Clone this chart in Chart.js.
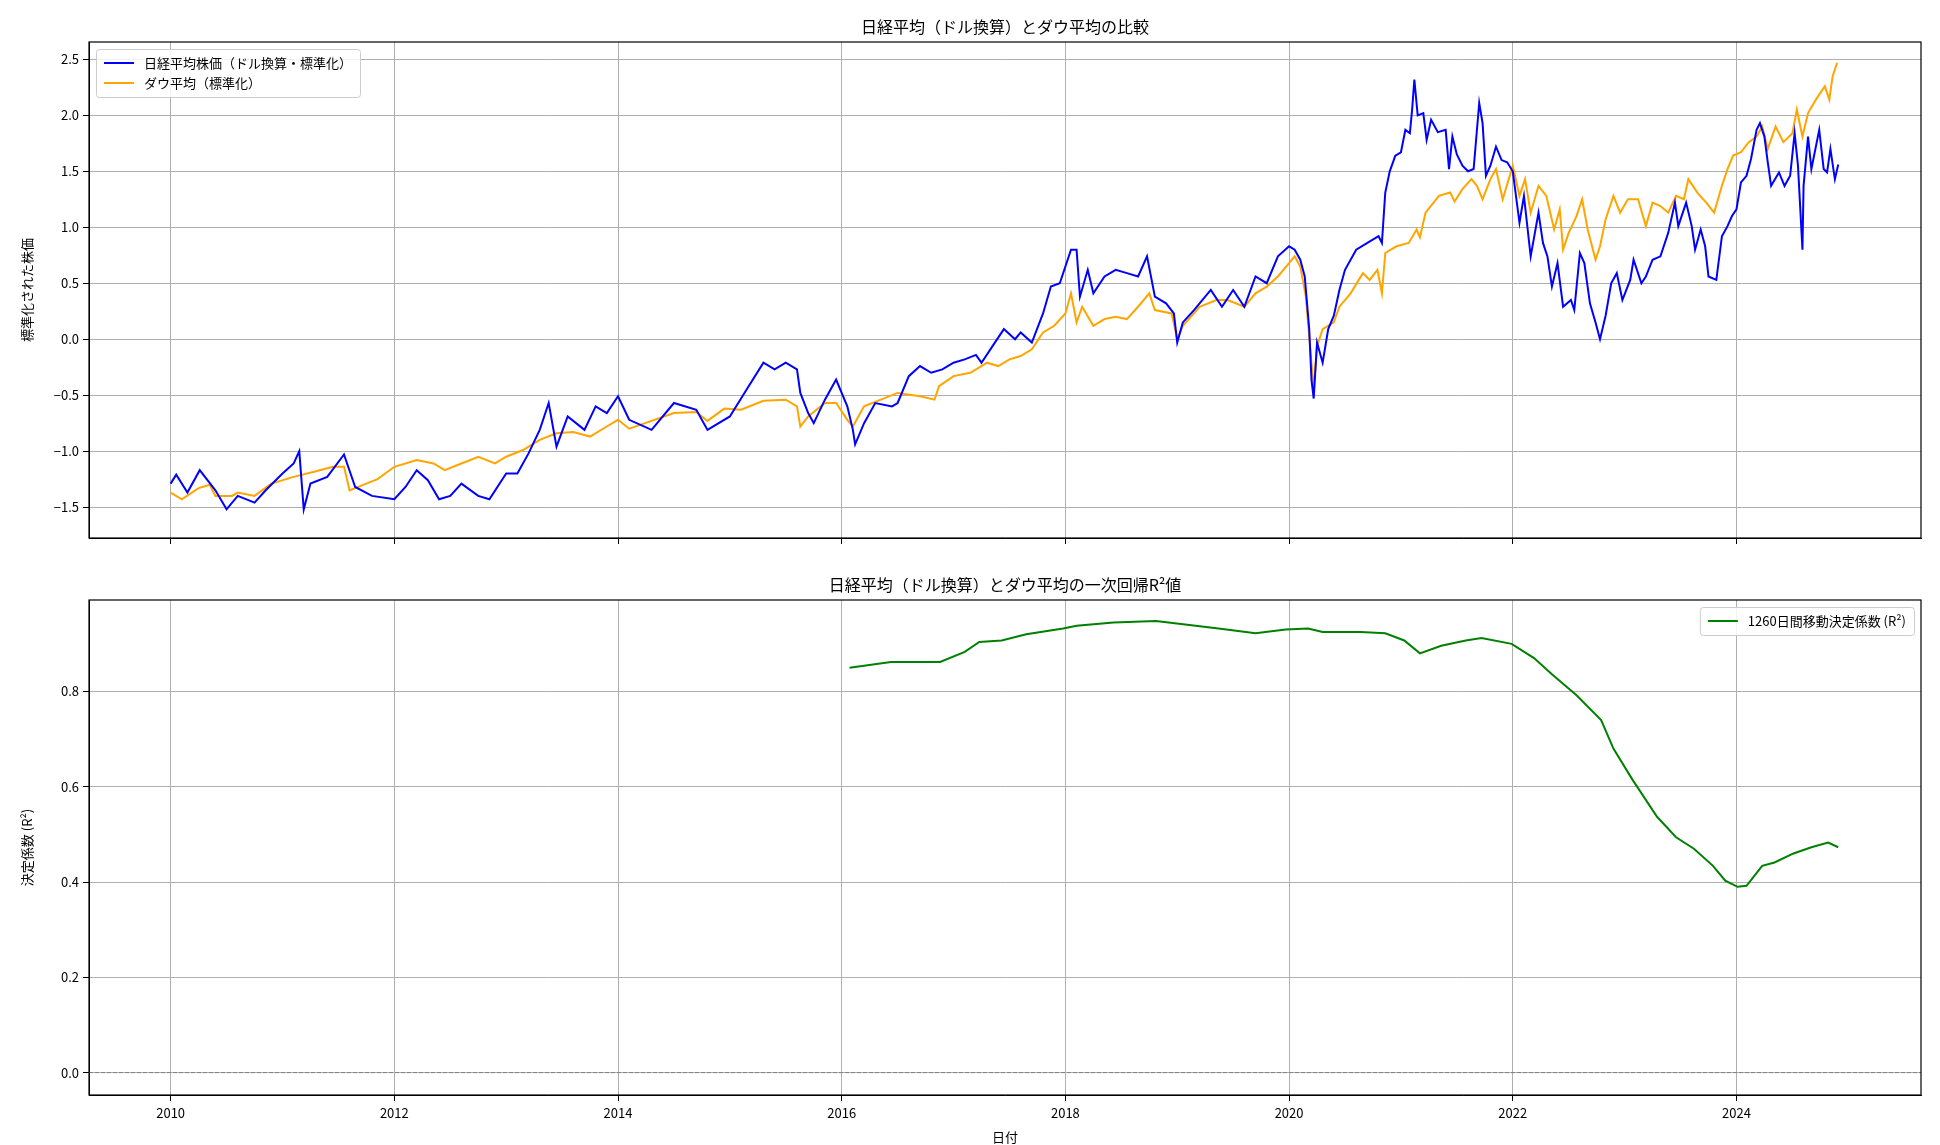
<!DOCTYPE html>
<html>
<head>
<meta charset="utf-8">
<script src="https://cdn.jsdelivr.net/npm/chart.js@4/dist/chart.umd.min.js"></script>
<style>
  body { margin: 0; background: #fff; width: 1940px; height: 1145px; position: relative; overflow: hidden;
         font-family: "Noto Sans CJK JP", "DejaVu Sans", sans-serif; }
  .wrap { position: absolute; left: 0; width: 1940px; }
  .ttl { position: absolute; left: 89px; width: 1832px; text-align: center; font-size: 16px; color: #000; }
</style>
</head>
<body>
<div class="wrap" style="top:0;height:560px"><canvas id="chart-top"></canvas></div>
<div class="wrap" style="top:560px;height:585px"><canvas id="chart-bottom"></canvas></div>
<div class="ttl" style="top:14px">日経平均（ドル換算）とダウ平均の比較</div>
<div class="ttl" style="top:572px">日経平均（ドル換算）とダウ平均の一次回帰R²値</div>
<script>
// 日経平均（ドル換算・標準化）
const nikkeiX = [2010.0,2010.05,2010.15,2010.26,2010.4,2010.5,2010.6,2010.75,2010.85,2011.0,2011.1,2011.15,2011.19,2011.25,2011.4,2011.55,2011.65,2011.8,2012.0,2012.1,2012.2,2012.3,2012.4,2012.5,2012.6,2012.75,2012.85,2013.0,2013.1,2013.2,2013.3,2013.38,2013.45,2013.55,2013.7,2013.8,2013.9,2014.0,2014.1,2014.3,2014.5,2014.7,2014.8,2015.0,2015.15,2015.3,2015.4,2015.5,2015.6,2015.63,2015.7,2015.75,2015.85,2015.95,2016.05,2016.1,2016.12,2016.2,2016.3,2016.45,2016.5,2016.6,2016.7,2016.8,2016.9,2017.0,2017.1,2017.2,2017.25,2017.35,2017.45,2017.55,2017.6,2017.7,2017.8,2017.87,2017.95,2018.05,2018.1,2018.13,2018.2,2018.25,2018.35,2018.45,2018.55,2018.65,2018.73,2018.8,2018.9,2018.97,2019.0,2019.05,2019.15,2019.3,2019.4,2019.5,2019.6,2019.7,2019.8,2019.9,2020.0,2020.05,2020.1,2020.14,2020.18,2020.2,2020.22,2020.25,2020.3,2020.35,2020.4,2020.45,2020.5,2020.6,2020.7,2020.8,2020.83,2020.86,2020.9,2020.95,2021.0,2021.04,2021.08,2021.1,2021.12,2021.15,2021.2,2021.23,2021.27,2021.33,2021.4,2021.43,2021.46,2021.5,2021.55,2021.6,2021.65,2021.7,2021.73,2021.76,2021.8,2021.85,2021.9,2021.95,2022.0,2022.06,2022.1,2022.16,2022.23,2022.27,2022.31,2022.35,2022.4,2022.45,2022.52,2022.55,2022.6,2022.64,2022.69,2022.74,2022.78,2022.83,2022.88,2022.93,2022.98,2023.05,2023.08,2023.15,2023.19,2023.25,2023.32,2023.39,2023.45,2023.48,2023.55,2023.6,2023.63,2023.68,2023.72,2023.75,2023.82,2023.87,2023.92,2023.96,2024.0,2024.04,2024.09,2024.13,2024.18,2024.21,2024.25,2024.28,2024.31,2024.38,2024.43,2024.48,2024.52,2024.55,2024.59,2024.6,2024.64,2024.67,2024.74,2024.78,2024.81,2024.84,2024.88,2024.91];
const nikkeiY = [-1.29,-1.21,-1.37,-1.17,-1.35,-1.52,-1.4,-1.46,-1.35,-1.2,-1.11,-1.0,-1.52,-1.29,-1.23,-1.03,-1.32,-1.4,-1.43,-1.32,-1.17,-1.26,-1.43,-1.4,-1.29,-1.4,-1.43,-1.2,-1.2,-1.02,-0.81,-0.57,-0.96,-0.69,-0.81,-0.6,-0.66,-0.51,-0.72,-0.81,-0.57,-0.63,-0.81,-0.69,-0.45,-0.21,-0.27,-0.21,-0.27,-0.48,-0.66,-0.75,-0.54,-0.36,-0.6,-0.81,-0.94,-0.75,-0.57,-0.6,-0.57,-0.33,-0.24,-0.3,-0.27,-0.21,-0.18,-0.14,-0.21,-0.06,0.09,0.0,0.06,-0.03,0.23,0.47,0.5,0.8,0.8,0.38,0.62,0.41,0.56,0.62,0.59,0.56,0.74,0.38,0.32,0.23,-0.03,0.15,0.26,0.44,0.29,0.44,0.29,0.56,0.5,0.74,0.83,0.8,0.71,0.56,0.09,-0.36,-0.53,-0.03,-0.21,0.09,0.21,0.44,0.62,0.8,0.86,0.92,0.86,1.31,1.5,1.64,1.67,1.87,1.84,2.05,2.32,2.0,2.02,1.78,1.96,1.85,1.87,1.52,1.81,1.65,1.55,1.5,1.52,2.11,1.93,1.46,1.55,1.72,1.6,1.58,1.5,1.04,1.28,0.74,1.13,0.86,0.74,0.47,0.68,0.29,0.35,0.26,0.77,0.68,0.32,0.15,0.0,0.21,0.5,0.59,0.35,0.53,0.71,0.5,0.56,0.71,0.74,0.95,1.22,1.01,1.22,1.01,0.8,0.98,0.83,0.56,0.53,0.92,1.01,1.1,1.16,1.4,1.46,1.61,1.87,1.93,1.81,1.58,1.37,1.49,1.37,1.46,1.84,1.55,0.8,1.37,1.81,1.52,1.87,1.52,1.49,1.7,1.43,1.56];

// ダウ平均（標準化）
const dowX = [2010.0,2010.1,2010.25,2010.35,2010.4,2010.55,2010.6,2010.75,2010.9,2011.1,2011.3,2011.45,2011.55,2011.6,2011.75,2011.85,2012.0,2012.2,2012.35,2012.45,2012.6,2012.75,2012.9,2013.0,2013.15,2013.3,2013.45,2013.6,2013.75,2013.9,2014.0,2014.1,2014.3,2014.5,2014.7,2014.8,2014.95,2015.1,2015.3,2015.5,2015.6,2015.63,2015.7,2015.85,2015.95,2016.05,2016.1,2016.2,2016.35,2016.5,2016.7,2016.83,2016.87,2017.0,2017.15,2017.3,2017.4,2017.5,2017.6,2017.7,2017.8,2017.9,2018.0,2018.05,2018.1,2018.15,2018.25,2018.35,2018.45,2018.55,2018.65,2018.75,2018.8,2018.95,2019.0,2019.05,2019.2,2019.35,2019.45,2019.6,2019.7,2019.8,2019.9,2020.0,2020.05,2020.1,2020.15,2020.2,2020.22,2020.25,2020.3,2020.4,2020.45,2020.55,2020.66,2020.72,2020.79,2020.83,2020.86,2020.96,2021.07,2021.14,2021.17,2021.22,2021.34,2021.44,2021.48,2021.55,2021.63,2021.68,2021.73,2021.8,2021.85,2021.91,2022.0,2022.06,2022.11,2022.16,2022.23,2022.3,2022.37,2022.42,2022.45,2022.5,2022.57,2022.62,2022.67,2022.74,2022.78,2022.83,2022.9,2022.96,2023.03,2023.12,2023.19,2023.25,2023.32,2023.39,2023.46,2023.53,2023.57,2023.65,2023.73,2023.8,2023.87,2023.92,2023.97,2024.04,2024.11,2024.18,2024.23,2024.28,2024.35,2024.42,2024.5,2024.54,2024.59,2024.64,2024.71,2024.79,2024.83,2024.86,2024.9];
const dowY = [-1.37,-1.43,-1.33,-1.3,-1.4,-1.4,-1.37,-1.4,-1.29,-1.23,-1.18,-1.14,-1.14,-1.35,-1.29,-1.25,-1.14,-1.08,-1.11,-1.17,-1.11,-1.05,-1.11,-1.05,-0.99,-0.9,-0.84,-0.83,-0.87,-0.78,-0.72,-0.8,-0.73,-0.66,-0.65,-0.73,-0.62,-0.63,-0.55,-0.54,-0.6,-0.78,-0.69,-0.57,-0.57,-0.72,-0.78,-0.6,-0.54,-0.48,-0.51,-0.54,-0.42,-0.33,-0.3,-0.21,-0.24,-0.18,-0.15,-0.09,0.06,0.12,0.23,0.41,0.15,0.29,0.12,0.18,0.2,0.18,0.29,0.41,0.26,0.23,0.0,0.12,0.29,0.35,0.35,0.29,0.41,0.47,0.56,0.68,0.74,0.65,0.38,-0.21,-0.45,-0.06,0.09,0.15,0.29,0.41,0.59,0.53,0.62,0.41,0.77,0.83,0.86,0.98,0.91,1.13,1.28,1.31,1.23,1.34,1.43,1.37,1.25,1.43,1.52,1.25,1.55,1.28,1.43,1.13,1.37,1.28,0.98,1.16,0.8,0.95,1.1,1.25,0.98,0.71,0.83,1.07,1.28,1.13,1.25,1.25,1.01,1.22,1.19,1.13,1.28,1.25,1.43,1.31,1.22,1.13,1.37,1.52,1.64,1.67,1.76,1.81,1.9,1.7,1.9,1.76,1.84,2.05,1.81,2.02,2.14,2.26,2.14,2.35,2.47];

// 1260日間移動決定係数 (R²)
const r2X = [2016.07,2016.44,2016.88,2017.1,2017.23,2017.43,2017.65,2017.98,2018.1,2018.43,2018.81,2019.09,2019.37,2019.7,2019.97,2020.17,2020.3,2020.64,2020.86,2021.03,2021.17,2021.36,2021.58,2021.72,2021.99,2022.19,2022.35,2022.57,2022.79,2022.9,2023.07,2023.29,2023.46,2023.62,2023.79,2023.9,2024.01,2024.09,2024.23,2024.34,2024.51,2024.67,2024.82,2024.91];
const r2Y = [0.85,0.862,0.862,0.883,0.904,0.907,0.92,0.932,0.938,0.945,0.948,0.94,0.932,0.922,0.93,0.932,0.925,0.925,0.922,0.907,0.88,0.896,0.907,0.912,0.9,0.87,0.836,0.792,0.74,0.68,0.615,0.537,0.494,0.47,0.434,0.403,0.39,0.392,0.434,0.441,0.46,0.473,0.483,0.473];

const yearTicks = [2010, 2012, 2014, 2016, 2018, 2020, 2022, 2024];
const topTicks = [-1.5, -1.0, -0.5, 0.0, 0.5, 1.0, 1.5, 2.0, 2.5];
const bottomTicks = [0.0, 0.2, 0.4, 0.6, 0.8];

const pts = (xs, ys) => xs.map((x, i) => ({ x, y: ys[i] }));
const fmt = v => (v < 0 ? '\u2212' : '') + Math.abs(v).toFixed(1);
const FAMILY = '"Noto Sans CJK JP", "DejaVu Sans", sans-serif';
const FONT = { family: FAMILY, size: 13 };

// 枠線 + matplotlib風の凡例
const frame = {
    id: 'frame',
    afterDraw(chart, args, opts) {
        const { ctx, chartArea: a } = chart;
        ctx.save();
        ctx.strokeStyle = '#000';
        ctx.lineWidth = 1.2;
        ctx.strokeRect(a.left, a.top, a.right - a.left, a.bottom - a.top);

        ctx.font = '13px ' + FAMILY;
        const sets = chart.data.datasets;
        const rowH = 20, sample = 30, gap = 10, pad = 8;
        const w = pad + sample + gap + Math.max(...sets.map(d => ctx.measureText(d.label).width)) + pad;
        const h = pad / 2 + sets.length * rowH + pad / 2;
        const x0 = opts.corner === 'right' ? a.right - 7 - w : a.left + 7;
        const y0 = a.top + 7;
        ctx.fillStyle = 'rgba(255,255,255,0.85)';
        ctx.strokeStyle = '#cccccc';
        ctx.lineWidth = 1;
        ctx.beginPath();
        ctx.roundRect(x0 + 0.5, y0 + 0.5, w, h, 3);
        ctx.fill(); ctx.stroke();
        ctx.textBaseline = 'middle';
        sets.forEach((d, i) => {
            const cy = y0 + pad / 2 + rowH * i + rowH / 2;
            ctx.strokeStyle = d.borderColor;
            ctx.lineWidth = 2;
            ctx.beginPath(); ctx.moveTo(x0 + pad, cy); ctx.lineTo(x0 + pad + sample, cy); ctx.stroke();
            ctx.fillStyle = '#000';
            ctx.fillText(d.label, x0 + pad + sample + gap, cy);
        });
        ctx.restore();
    }
};

function xScale(showLabels, title) {
    return {
        type: 'linear', min: 2009.27, max: 2025.65,
        afterBuildTicks: s => { s.ticks = yearTicks.map(v => ({ value: v })); },
        afterFit: s => { s.height = title ? 50 : 22; },
        ticks: { display: showLabels, color: '#000', font: FONT, callback: v => String(v), maxRotation: 0, padding: 4 },
        grid: { color: '#b0b0b0', tickColor: '#000', tickLength: 6 },
        border: { color: '#000' },
        title: { display: !!title, text: title, color: '#000', font: FONT, padding: 0 }
    };
}

function yScale(min, max, ticks, title) {
    return {
        min, max,
        afterBuildTicks: s => { s.ticks = ticks.map(v => ({ value: v })); },
        afterFit: s => { s.width = 70; },
        ticks: { color: '#000', font: FONT, callback: fmt, padding: 4 },
        grid: { color: '#b0b0b0', tickColor: '#000', tickLength: 6 },
        border: { color: '#000' },
        title: { display: true, text: title, color: '#000', font: FONT, padding: 0 }
    };
}

new Chart(document.getElementById('chart-top'), {
    type: 'line',
    data: {
        datasets: [
            { label: '日経平均株価（ドル換算・標準化）', data: pts(nikkeiX, nikkeiY), borderColor: '#0000ff', borderWidth: 2 },
            { label: 'ダウ平均（標準化）', data: pts(dowX, dowY), borderColor: '#ffa500', borderWidth: 2 }
        ]
    },
    options: {
        responsive: true, maintainAspectRatio: false, animation: false,
        parsing: false, elements: { point: { radius: 0 }, line: { tension: 0 } },
        layout: { padding: { top: 42, right: 19, left: 19, bottom: 0 } },
        scales: { x: xScale(false, ''), y: yScale(-1.776, 2.655, topTicks, '標準化された株価') },
        plugins: { legend: { display: false }, tooltip: { enabled: false }, frame: { corner: 'left' } }
    },
    plugins: [frame]
});

const zeroLine = {
    id: 'zeroLine',
    beforeDatasetsDraw(chart) {
        const { ctx, chartArea: a, scales: { y } } = chart;
        const py = y.getPixelForValue(0);
        ctx.save();
        ctx.strokeStyle = '#808080';
        ctx.lineWidth = 1;
        ctx.setLineDash([4, 2]);
        ctx.beginPath(); ctx.moveTo(a.left, py); ctx.lineTo(a.right, py); ctx.stroke();
        ctx.restore();
    }
};

new Chart(document.getElementById('chart-bottom'), {
    type: 'line',
    data: {
        datasets: [
            { label: '1260日間移動決定係数 (R²)', data: pts(r2X, r2Y), borderColor: '#008000', borderWidth: 2 }
        ]
    },
    options: {
        responsive: true, maintainAspectRatio: false, animation: false,
        parsing: false, elements: { point: { radius: 0 }, line: { tension: 0 } },
        layout: { padding: { top: 40, right: 19, left: 19, bottom: 0 } },
        scales: { x: xScale(true, '日付'), y: yScale(-0.047, 0.992, bottomTicks, '決定係数 (R²)') },
        plugins: { legend: { display: false }, tooltip: { enabled: false }, frame: { corner: 'right' } }
    },
    plugins: [frame, zeroLine]
});
</script>
</body>
</html>
